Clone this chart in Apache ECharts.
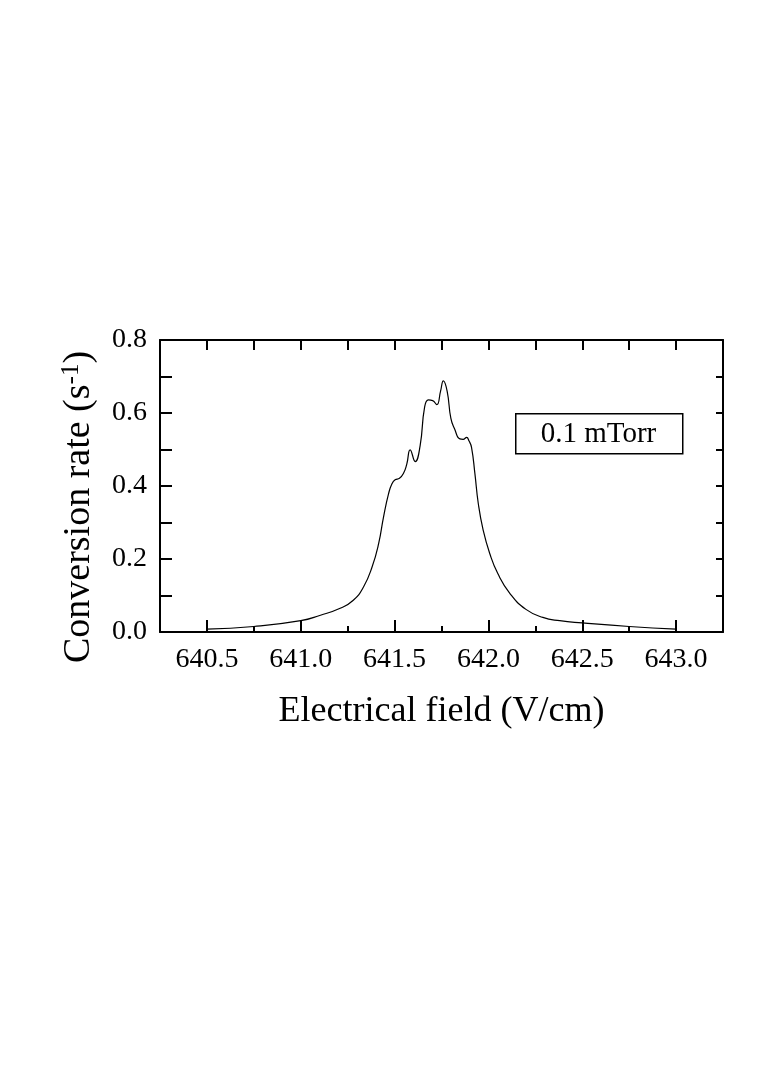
<!DOCTYPE html>
<html><head><meta charset="utf-8">
<script src="https://cdn.jsdelivr.net/npm/echarts@6/dist/echarts.min.js"></script>
<style>html,body{margin:0;padding:0;background:#fff}#c{width:757px;height:1090px}</style>
</head><body><div id="c"></div>
<script>
const fieldValues = [640.50,640.75,641.00,641.105,641.21,641.28,641.335,641.38,641.415,641.441,641.468,641.486,641.503,641.526,641.547,641.565,641.583,641.61,641.636,641.66,641.68,641.703,641.725,641.745,641.76,641.78,641.80,641.82,641.848,641.865,641.884,641.897,641.91,641.928,641.946,641.972,642.007,642.05,642.114,642.20,642.29,642.38,642.50,642.75,643.00];
const rateValues = [0.008,0.015,0.031,0.046,0.065,0.087,0.124,0.178,0.242,0.315,0.379,0.406,0.417,0.421,0.434,0.460,0.499,0.467,0.510,0.616,0.636,0.634,0.623,0.660,0.688,0.660,0.585,0.556,0.529,0.528,0.533,0.523,0.506,0.434,0.352,0.279,0.215,0.160,0.106,0.062,0.040,0.031,0.025,0.015,0.008];
const xMajorTicks = [640.5,641.0,641.5,642.0,642.5,643.0];
const yMajorTicks = [0.0,0.2,0.4,0.6,0.8];
const seriesName = '0.1 mTorr';

const font = 'Liberation Serif, Times New Roman, serif';
const chart = echarts.init(document.getElementById('c'), null, {renderer:'canvas'});
const lineStyle = {color:'#000', width:2};
chart.setOption({
  animation:false,
  backgroundColor:'#fff',
  grid:{left:160, right:34, top:340, bottom:458},
  xAxis:[
    {type:'value', min:640.25, max:643.25, interval:0.25, position:'bottom',
     axisLine:{show:true, onZero:false, lineStyle}, splitLine:{show:false},
     axisTick:{show:true, inside:true, length:6, lineStyle},
     axisLabel:{show:true, customValues:xMajorTicks, margin:14, fontFamily:font, fontSize:28, color:'#000', formatter:v=>v.toFixed(1)},
     name:'Electrical field (V/cm)', nameLocation:'middle', nameGap:62,
     nameTextStyle:{fontFamily:font, fontSize:36, color:'#000'}},
    {type:'value', min:640.25, max:643.25, interval:0.25, position:'bottom',
     axisLine:{show:false, onZero:false}, splitLine:{show:false},
     axisTick:{show:true, inside:true, length:12, customValues:xMajorTicks, lineStyle},
     axisLabel:{show:false}},
    {type:'value', min:640.25, max:643.25, interval:0.25, position:'top',
     axisLine:{show:true, onZero:false, lineStyle}, splitLine:{show:false},
     axisTick:{show:true, inside:true, length:10, lineStyle},
     axisLabel:{show:false}}
  ],
  yAxis:[
    {type:'value', min:0, max:0.8, interval:0.1, position:'left',
     axisLine:{show:true, onZero:false, lineStyle}, splitLine:{show:false},
     axisTick:{show:true, inside:true, length:12, lineStyle},
     axisLabel:{show:true, customValues:yMajorTicks, margin:13, fontFamily:font, fontSize:28, color:'#000', formatter:v=>v.toFixed(1)},
     name:'{a|Conversion rate (s}{b|-1}{a|)}', nameLocation:'middle', nameGap:60,
     nameTextStyle:{fontFamily:font, fontSize:38, color:'#000', padding:[0,42,0,0],
       rich:{a:{fontFamily:font, fontSize:38, color:'#000'}, b:{fontFamily:font, fontSize:25, color:'#000', verticalAlign:'top', padding:[0,0,16,0]}}}},
    {type:'value', min:0, max:0.8, interval:0.1, position:'right',
     axisLine:{show:true, onZero:false, lineStyle}, splitLine:{show:false},
     axisTick:{show:true, inside:true, length:7, lineStyle},
     axisLabel:{show:false}}
  ],
  series:[{
    name:seriesName, type:'line', xAxisIndex:0, yAxisIndex:0,
    data:fieldValues.map((x,i)=>[x, rateValues[i]]),
    smooth:0.5, showSymbol:false, symbol:'none',
    lineStyle:{color:'#000', width:1.2}
  }],
  graphic:[
    {type:'rect', left:515, top:413, shape:{width:167, height:40}, style:{fill:'#fff', stroke:'#000', lineWidth:1.5}, z:10},
    {type:'text', x:598.5, y:434, style:{text:seriesName, font:'29px ' + font, fill:'#000', textAlign:'center', textVerticalAlign:'middle'}, z:11}
  ]
});
</script></body></html>
